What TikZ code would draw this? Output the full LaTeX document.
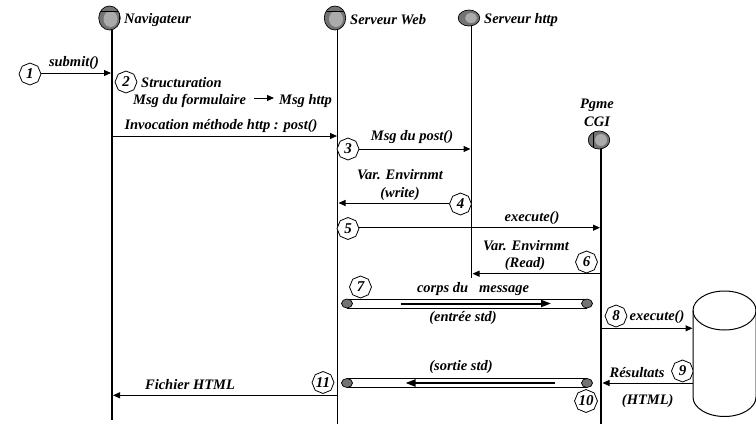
\documentclass[tikz,border=0pt]{standalone}
\usepackage{fontspec}
\setmainfont{Liberation Serif}
\usetikzlibrary{shapes.geometric,arrows.meta,patterns}
\tikzset{
  x=1pt,y=-1pt,
  lifeline/.style={line width=1.8pt},
  msg/.style={line width=1pt,-{Triangle[length=7pt,width=6pt]}},
  thickmsg/.style={line width=2pt,-{Triangle[length=10pt,width=7pt]}},
  txt/.style={font=\fontsize{14.5}{15}\selectfont\bfseries\itshape,inner sep=0pt},
  octo/.style={draw,fill=white,regular polygon,regular polygon sides=8,shape border rotate=22.5,minimum size=22pt,inner sep=0pt,line width=0.8pt,font=\fontsize{15}{15}\selectfont\bfseries\itshape},
  head/.style={draw,ellipse,fill=black!55,line width=0.7pt,minimum width=21.5pt,minimum height=24pt,inner sep=0pt},
  headsmall/.style={head,minimum height=16pt},
  headcgi/.style={head,minimum height=18pt},
  tip/.style={draw,ellipse,fill=black!55,line width=0.7pt,minimum width=11pt,minimum height=9pt,inner sep=0pt},
  pipeline/.style={line width=1pt},
  dither/.style={fill=black!33},
  seam/.style={line width=0.5pt},
}
\begin{document}
\begin{tikzpicture}
\useasboundingbox (0,0) rectangle (756,424);
% lifelines
\coordinate (navT) at (112,29);\coordinate (navB) at (112,420);
\coordinate (webT) at (337.5,29);\coordinate (webB) at (337.5,424);
\coordinate (httpT) at (471.5,25);\coordinate (httpB) at (471.5,278);
\coordinate (cgiT) at (601,148);\coordinate (cgiB) at (601,424);
\draw[lifeline] (navT)--(navB);
\draw[lifeline] (webT)--(webB);
\draw[lifeline] (httpT)--(httpB);
\draw[lifeline] (cgiT)--(cgiB);
% heads
\node[head] (nav) at (109.5,18) {};
\node[head] (web) at (335,18) {};
\node[headsmall] (http) at (469,18) {};
\node[headcgi] (cgi) at (599,140) {};
\fill[dither] (110.5,19) ellipse [x radius=7,y radius=8];
\fill[dither] (336,19) ellipse [x radius=7,y radius=8];
\fill[dither] (471,18) ellipse [x radius=6,y radius=5];
\fill[dither] (601,140) ellipse [x radius=6,y radius=6];
\begin{scope}
  \clip (109.5,18) ellipse [x radius=10.5,y radius=11.7];
  \draw[seam] (98,11)--(119,11)--(119,30);
\end{scope}
\begin{scope}
  \clip (335,18) ellipse [x radius=10.5,y radius=11.7];
  \draw[seam] (323,11)--(345,11);
\end{scope}
\draw[seam] (593,132)--(593,148);
\node[txt,anchor=west] (navl) at (124,20) {Navigateur};
\node[txt,anchor=west] (webl) at (350,20) {Serveur Web};
\node[txt,anchor=west] (httpl) at (484,20) {Serveur http};
\node[txt] (cgil1) at (597,105) {Pgme};
\node[txt] (cgil2) at (597,122) {CGI};
% octagons
\node[octo] (o1) at (30,74) {1};
\node[octo] (o2) at (126,82) {2};
\node[octo] (o3) at (348,149) {3};
\node[octo] (o4) at (460.5,204) {4};
\node[octo] (o5) at (348,228.5) {5};
\node[octo] (o6) at (586.5,262) {6};
\node[octo] (o7) at (360.5,287) {7};
\node[octo] (o8) at (616,316) {8};
\node[octo] (o9) at (682.5,371) {9};
\node[octo] (o10) at (586,401) {10};
\node[octo] (o11) at (323,382.5) {11};
% messages
\coordinate (a1) at (111,73);
\draw[msg] (o1.east|-a1)--(a1);
\node[txt] (t1) at (74,63) {submit()};
\node[txt,anchor=west] (t2) at (141,83) {Structuration};
\node[txt,anchor=west] (t2a) at (133,101) {Msg du formulaire};
\node[txt,anchor=west] (t2b) at (279,101) {Msg http};
\coordinate (a2a) at (254,98);\coordinate (a2b) at (274,98);
\draw[msg] (a2a)--(a2b);
\node[txt] (t3) at (221,126) {Invocation méthode http : post()};
\coordinate (a3a) at (112,136);\coordinate (a3b) at (337,136);
\draw[msg] (a3a)--(a3b);
\node[txt] (t4) at (412,137) {Msg du post()};
\coordinate (a4) at (470.5,149);
\draw[msg] (o3.east|-a4)--(a4);
\node[txt] (t5) at (400,175) {Var. Envirnmt};
\node[txt] (t5b) at (400,194) {(write)};
\coordinate (a5) at (338.5,203);
\draw[msg] (o4.west|-a5)--(a5);
\node[txt] (t6) at (532,218) {execute()};
\coordinate (a6) at (600,227.7);
\draw[msg] (o5.east|-a6)--(a6);
\node[txt] (t7) at (526,246) {Var. Envirnmt};
\node[txt] (t7b) at (525,264) {(Read)};
\coordinate (a7a) at (601,273.7);\coordinate (a7b) at (472.5,273.7);
\draw[msg] (a7a)--(a7b);
% input pipe
\draw[pipeline] (347,299)--(587,299);
\draw[pipeline] (347,308)--(587,308);
\node[tip] (p1) at (347,303.5) {};
\node[tip] (p2) at (587,303.5) {};
\node[txt] (t8) at (473,289) {corps du\ \ \ message};
\node[txt] (t8b) at (463,318) {(entrée std)};
\coordinate (a8a) at (400.5,303.5);\coordinate (a8b) at (551,303.5);
\draw[thickmsg] (a8a)--(a8b);
% execute
\node[txt] (t9) at (657,317.5) {execute()};
\coordinate (a9a) at (601,328.3);\coordinate (a9b) at (692.5,328.3);
\draw[msg] (a9a)--(a9b);
% cylinder
\draw[line width=1pt,fill=white] (693,310.5) arc[start angle=180,end angle=360,x radius=31.5,y radius=19.5] -- (756,397) arc[start angle=0,end angle=180,x radius=31.5,y radius=19.5] -- cycle;
\draw[line width=1pt] (693,310.5) arc[start angle=180,end angle=0,x radius=31.5,y radius=19.5];
% results
\coordinate (a10a) at (693,383);\coordinate (a10b) at (602.5,383);
\draw[msg] (a10a)--(a10b);
\node[txt] (t10) at (637,372.7) {Résultats};
\node[txt] (t10b) at (647.7,401) {(HTML)};
% output pipe
\draw[pipeline] (347,378.7)--(587,378.7);
\draw[pipeline] (347,387)--(587,387);
\node[tip] (q1) at (347,383) {};
\node[tip] (q2) at (587,383) {};
\node[txt] (t11) at (461,367) {(sortie std)};
\coordinate (a11a) at (555,383);\coordinate (a11b) at (405.5,383);
\draw[thickmsg] (a11a)--(a11b);
\coordinate (a12a) at (337,395.3);\coordinate (a12b) at (113,395.3);
\draw[msg] (a12a)--(a12b);
\node[txt] (t12) at (190,384.3) {Fichier HTML};
\end{tikzpicture}
\end{document}
